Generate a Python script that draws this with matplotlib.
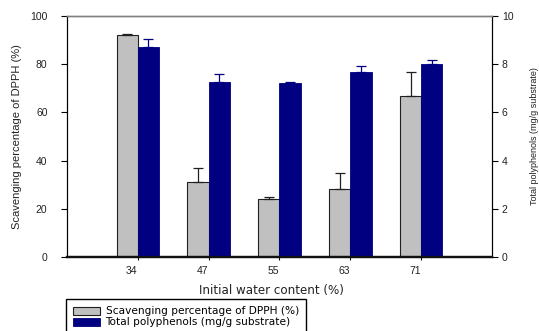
import numpy as np
import matplotlib.pyplot as plt
import matplotlib.transforms as mtransforms

# initial water content (%) and the two measured responses
water = ["34", "47", "55", "63", "71"]
dpph = [92.1, 31.0, 23.9, 28.2, 66.7]          # scavenging of DPPH (%)
dpph_err = [0.3, 6.1, 1.1, 6.5, 10.1]
phenols = [8.70, 7.27, 7.23, 7.66, 8.02]        # total polyphenols (mg/g substrate)
phenols_err = [0.36, 0.31, 0.03, 0.25, 0.14]

plt.rcParams['font.family'] = 'Liberation Sans'
txt = '#222222'

fig = plt.figure(figsize=(5.39, 3.31), dpi=100)
ax = fig.add_axes([67/539, 1 - 257/331, 425/539, 241/331])
ax2 = ax.twinx()

x = np.arange(len(water))
w = 0.3
zeros = np.zeros(len(water))

b1 = ax.bar(x - w/2, dpph, w, color='#c0c0c0', edgecolor='#202020', linewidth=0.8,
            yerr=[zeros, dpph_err],
            error_kw=dict(ecolor='#202020', elinewidth=0.9, capsize=3.5, capthick=0.9))
b2 = ax2.bar(x + w/2, phenols, w, color='#000080', edgecolor='#000080', linewidth=0.6,
             yerr=[zeros, phenols_err],
             error_kw=dict(ecolor='#000080', elinewidth=0.9, capsize=3.5, capthick=0.9))

ax.set_xlim(-1, 5)
ax.set_ylim(0, 100)
ax2.set_ylim(0, 10)
ax.set_yticks(np.arange(0, 101, 20))
ax2.set_yticks(np.arange(0, 11, 2))
ax.set_xticks(x)
ax.set_xticklabels(water)

ax.tick_params(axis='y', direction='out', length=4, width=0.8, pad=10, labelsize=7.5, labelcolor=txt)
ax.tick_params(axis='x', direction='out', length=2.5, width=0.8, pad=4, labelsize=7.5, labelcolor=txt)
ax2.tick_params(axis='y', direction='out', length=4, width=0.8, pad=3, labelsize=7.5, labelcolor=txt)

# nudge the category labels a little to the left
shift = mtransforms.ScaledTranslation(-0.06, 0, fig.dpi_scale_trans)
for lbl in ax.get_xticklabels():
    lbl.set_transform(lbl.get_transform() + shift)

for a in (ax, ax2):
    a.spines['top'].set_color('#808080')
    a.spines['top'].set_linewidth(1.0)
    a.spines['bottom'].set_linewidth(1.6)
    a.spines['bottom'].set_color('#111111')
    a.spines['left'].set_linewidth(0.8)
    a.spines['right'].set_linewidth(0.8)

ax.set_ylabel("Scavenging percentage of DPPH (%)", fontsize=8, color=txt, labelpad=6)
ax2.set_ylabel("Total polyphenols (mg/g substrate)", fontsize=6.5, color=txt, labelpad=12)
ax.set_xlabel("Initial water content (%)", fontsize=8.6, color=txt,
              family='DejaVu Sans')
ax.xaxis.set_label_coords(0.48, -0.114)

fig.legend([b1, b2], ["Scavenging percentage of DPPH (%)", "Total polyphenols (mg/g substrate)"],
           loc='upper left', bbox_to_anchor=(66/539, 1 - 299/331), frameon=True,
           fancybox=False, edgecolor='black', framealpha=1, borderaxespad=0,
           prop=dict(family='DejaVu Sans', size=7.6), handlelength=2.5, handleheight=0.75,
           labelspacing=0.1, borderpad=0.7, handletextpad=0.55)

fig.savefig("out.png", dpi=100)
